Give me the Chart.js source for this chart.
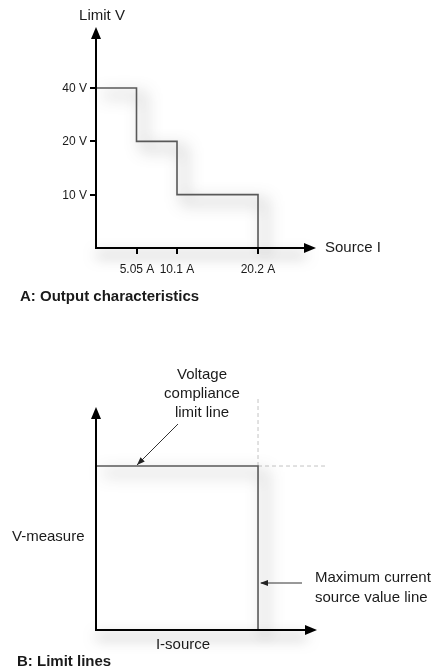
<!DOCTYPE html>
<html><head><meta charset="utf-8">
<script src="https://cdn.jsdelivr.net/npm/chart.js@4"></script>
<style>
html,body{margin:0;padding:0;background:#fff;width:440px;height:669px;overflow:hidden}
canvas{position:absolute;left:0}
#a{top:0}#b{top:330px}
</style></head><body>
<canvas id="a" width="440" height="330"></canvas>
<canvas id="b" width="440" height="339"></canvas>
<script>
// ---------- Panel A: output characteristics ----------
const currentBreaks = [5.05, 10.1, 20.2];          // source current (A)
const voltageLimits = [40, 20, 10];                // limit voltage (V) per range
const currentTickLabels = ['5.05 A', '10.1 A', '20.2 A'];
const voltageTickLabels = ['10 V', '20 V', '40 V'];
const voltageLevels = [0, 10, 20, 40];             // evenly spaced (ordinal) V axis
// ---------- Panel B: limit lines (normalised units) ----------
const currentSourceMax = [1];                      // maximum current source value
const voltageCompliance = [1];                     // voltage compliance limit
const guideExtentV = [1.415];                      // dashed guide, vertical extent
const guideExtentI = [1.426];                      // dashed guide, horizontal extent

const FONT = '"Liberation Sans", Arial, sans-serif';
const TXT = '#1a1a1a';
const SHADOW = 'rgba(0,0,0,0.7)';

function lvl(v){ return voltageLevels.indexOf(v); }

function arrowHead(ctx, x, y, dir, len, half){
  ctx.beginPath();
  if (dir === 'up'){ ctx.moveTo(x, y); ctx.lineTo(x-half, y+len); ctx.lineTo(x+half, y+len); }
  else if (dir === 'right'){ ctx.moveTo(x, y); ctx.lineTo(x-len, y-half); ctx.lineTo(x-len, y+half); }
  else if (dir === 'left'){ ctx.moveTo(x, y); ctx.lineTo(x+len, y-half); ctx.lineTo(x+len, y+half); }
  ctx.closePath(); ctx.fill();
}

function setShadow(c){
  c.shadowColor = SHADOW; c.shadowBlur = 16; c.shadowOffsetX = 7; c.shadowOffsetY = 7;
}

const shadowPlugin = {
  id: 'softShadow',
  beforeDatasetsDraw(chart){ const c = chart.ctx; c.save(); setShadow(c); },
  afterDatasetsDraw(chart){ chart.ctx.restore(); }
};

function drawAxes(chart){
  const c = chart.ctx, xs = chart.scales.x, ys = chart.scales.y, ca = chart.chartArea;
  const ox = xs.getPixelForValue(0), oy = ys.getPixelForValue(0);
  c.save();
  c.strokeStyle = '#000'; c.fillStyle = '#000'; c.lineWidth = 2;
  c.save();
  c.shadowColor = 'rgba(0,0,0,0.6)'; c.shadowBlur = 14; c.shadowOffsetX = 0; c.shadowOffsetY = 7;
  c.beginPath(); c.moveTo(ox, oy); c.lineTo(ca.right - 10, oy); c.stroke();
  c.restore();
  c.beginPath(); c.moveTo(ox, oy + 1); c.lineTo(ox, ca.top + 10); c.stroke();
  arrowHead(c, ox, ca.top, 'up', 12, 5);
  arrowHead(c, ca.right, oy, 'right', 12, 5);
  c.restore();
}

// ---------- Chart A ----------
const stepData = [{x: 0, y: lvl(voltageLimits[0])}];
currentBreaks.forEach((cur, i) => {
  stepData.push({x: cur, y: i + 1 < voltageLimits.length ? lvl(voltageLimits[i + 1]) : 0});
});

new Chart(document.getElementById('a'), {
  type: 'line',
  data: { datasets: [{
    data: stepData, stepped: 'before', borderColor: '#595959', borderWidth: 1.6,
    pointRadius: 0, fill: false, clip: false
  }]},
  options: {
    responsive: false, animation: false, devicePixelRatio: 1,
    layout: { padding: { left: 96, right: 124, top: 27, bottom: 82 } },
    plugins: { legend: { display: false }, tooltip: { enabled: false } },
    scales: {
      x: { type: 'linear', display: false, min: 0, max: 27.43 },
      y: { type: 'linear', display: false, min: 0, max: 4.144 }
    }
  },
  plugins: [shadowPlugin, {
    id: 'axesA',
    afterDatasetsDraw(chart){
      const c = chart.ctx, xs = chart.scales.x, ys = chart.scales.y, ca = chart.chartArea;
      drawAxes(chart);
      const ox = xs.getPixelForValue(0), oy = ys.getPixelForValue(0);
      c.save();
      c.strokeStyle = '#000'; c.lineWidth = 2; c.fillStyle = TXT;
      c.font = '12px ' + FONT; c.textAlign = 'right'; c.textBaseline = 'middle';
      voltageLevels.slice(1).forEach((v, i) => {
        const py = Math.round(ys.getPixelForValue(lvl(v)));
        c.beginPath(); c.moveTo(ox - 6, py); c.lineTo(ox, py); c.stroke();
        c.fillText(voltageTickLabels[i], ox - 9, py + 0.5);
      });
      c.textAlign = 'center'; c.textBaseline = 'middle';
      currentBreaks.forEach((cur, i) => {
        const px = Math.round(xs.getPixelForValue(cur));
        c.beginPath(); c.moveTo(px, oy); c.lineTo(px, oy + 6); c.stroke();
        c.fillText(currentTickLabels[i], px, oy + 22);
      });
      c.font = '15px ' + FONT;
      c.textAlign = 'center'; c.fillText('Limit V', ox + 6, 16);
      c.textAlign = 'left'; c.fillText('Source I', ca.right + 9, oy);
      c.font = 'bold 15px ' + FONT;
      c.fillText('A: Output characteristics', 20, 297);
      c.restore();
    }
  }]
});

// ---------- Chart B ----------
const iMax = currentSourceMax[0], vLim = voltageCompliance[0];
new Chart(document.getElementById('b'), {
  type: 'line',
  data: { datasets: [
    { data: [{x: 0, y: vLim}, {x: iMax, y: vLim}, {x: iMax, y: 0}],
      borderColor: '#595959', borderWidth: 1.6, pointRadius: 0, fill: false, clip: false, tension: 0 },
    { data: [{x: iMax, y: vLim}, {x: iMax, y: guideExtentV[0]}],
      borderColor: '#c4c4c4', borderWidth: 1, borderDash: [4, 3], pointRadius: 0, clip: false },
    { data: [{x: iMax, y: vLim}, {x: guideExtentI[0], y: vLim}],
      borderColor: '#c4c4c4', borderWidth: 1, borderDash: [4, 3], pointRadius: 0, clip: false }
  ]},
  options: {
    responsive: false, animation: false, devicePixelRatio: 1,
    layout: { padding: { left: 96, right: 123, top: 77, bottom: 39 } },
    plugins: { legend: { display: false }, tooltip: { enabled: false } },
    scales: {
      x: { type: 'linear', display: false, min: 0, max: 1.364 },
      y: { type: 'linear', display: false, min: 0, max: 1.36 }
    }
  },
  plugins: [{
    id: 'shadowB',
    beforeDatasetDraw(chart, args){
      const c = chart.ctx; c.save();
      if (args.index === 0) setShadow(c);
    },
    afterDatasetDraw(chart){ chart.ctx.restore(); }
  }, {
    id: 'axesB',
    afterDatasetsDraw(chart){
      const c = chart.ctx, xs = chart.scales.x, ys = chart.scales.y, ca = chart.chartArea;
      drawAxes(chart);
      const ox = xs.getPixelForValue(0), oy = ys.getPixelForValue(0);
      const limY = ys.getPixelForValue(vLim), limX = xs.getPixelForValue(iMax);
      c.save();
      c.fillStyle = TXT; c.strokeStyle = '#333'; c.lineWidth = 1;
      c.font = '15px ' + FONT; c.textAlign = 'center'; c.textBaseline = 'middle';
      c.fillText('Voltage', 202, 45);
      c.fillText('compliance', 202, 64);
      c.fillText('limit line', 202, 83);
      const ax0 = 178, ay0 = 94, ax1 = xs.getPixelForValue(0.253), ay1 = limY - 1;
      c.beginPath(); c.moveTo(ax0, ay0); c.lineTo(ax1, ay1); c.stroke();
      const ang = Math.atan2(ay1 - ay0, ax1 - ax0);
      c.fillStyle = '#222';
      c.beginPath(); c.moveTo(ax1, ay1);
      c.lineTo(ax1 - 8 * Math.cos(ang) + 3 * Math.sin(ang), ay1 - 8 * Math.sin(ang) - 3 * Math.cos(ang));
      c.lineTo(ax1 - 8 * Math.cos(ang) - 3 * Math.sin(ang), ay1 - 8 * Math.sin(ang) + 3 * Math.cos(ang));
      c.closePath(); c.fill();
      const by = 253;
      c.beginPath(); c.moveTo(302, by); c.lineTo(limX + 3, by); c.stroke();
      arrowHead(c, limX + 2, by, 'left', 8, 3);
      c.fillStyle = TXT; c.textAlign = 'left';
      c.fillText('Maximum current', 315, 248);
      c.fillText('source value line', 315, 268);
      c.fillText('V-measure', 12, 207);
      c.textAlign = 'center';
      c.fillText('I-source', 183, oy + 15);
      c.textAlign = 'left'; c.font = 'bold 15px ' + FONT;
      c.fillText('B: Limit lines', 17, 332);
      c.restore();
    }
  }]
});
</script>
</body></html>
